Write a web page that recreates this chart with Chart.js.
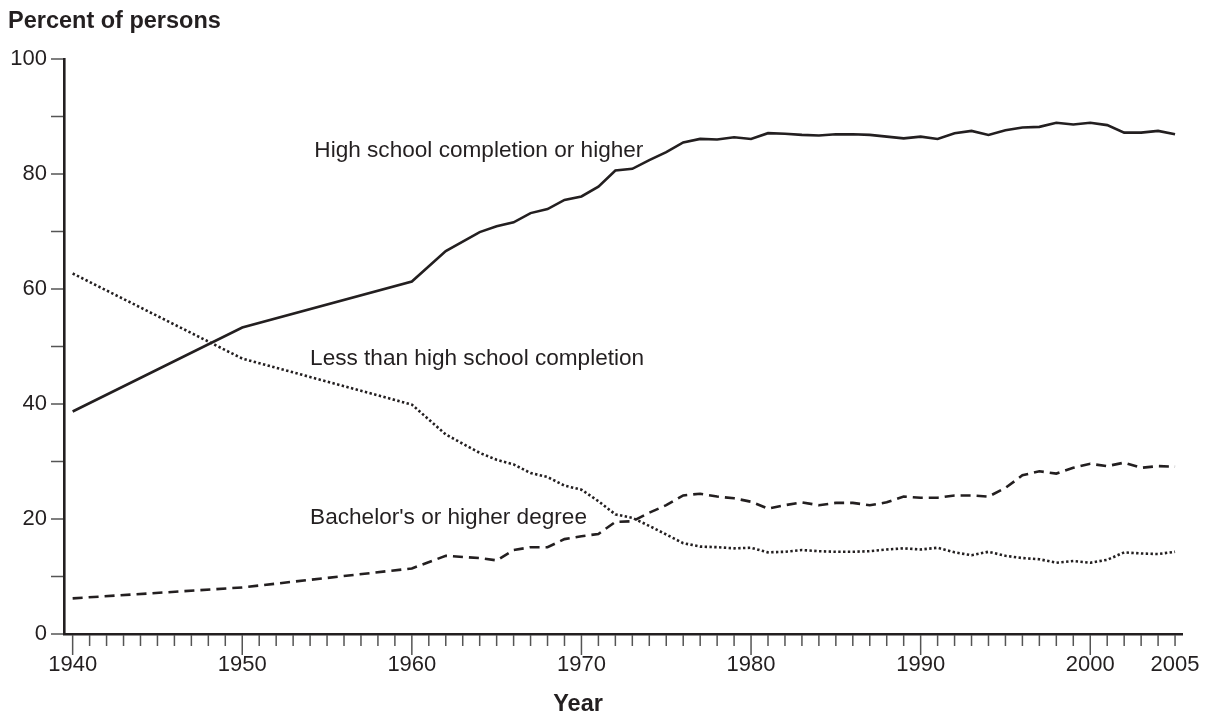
<!DOCTYPE html>
<html>
<head>
<meta charset="utf-8">
<script src="https://cdn.jsdelivr.net/npm/chart.js@4.4.0/dist/chart.umd.min.js"></script>
<style>
  html, body { margin: 0; background: #fff; }
  #wrap { width: 1209px; height: 715px; }
</style>
</head>
<body>
<div id="wrap"><canvas id="chart"></canvas></div>
<script>
// values
const years = [1940, 1950, 1960, 1962,
  1964, 1965, 1966, 1967, 1968, 1969,
  1970, 1971, 1972, 1973, 1974, 1975, 1976, 1977, 1978, 1979,
  1980, 1981, 1982, 1983, 1984, 1985, 1986, 1987, 1988, 1989,
  1990, 1991, 1992, 1993, 1994, 1995, 1996, 1997, 1998, 1999,
  2000, 2001, 2002, 2003, 2004, 2005];

const highSchool = [38.7, 53.3, 61.3, 66.6,
  69.9, 70.9, 71.6, 73.2, 73.9, 75.5,
  76.1, 77.8, 80.6, 80.9, 82.4, 83.8, 85.5, 86.1, 86.0, 86.4,
  86.1, 87.1, 87.0, 86.8, 86.7, 86.9, 86.9, 86.8, 86.5, 86.2,
  86.5, 86.1, 87.1, 87.5, 86.8, 87.6, 88.1, 88.2, 88.9, 88.6,
  88.9, 88.5, 87.2, 87.2, 87.5, 86.9];

const lessThanHS = [62.7, 47.9, 39.9, 34.7,
  31.5, 30.3, 29.5, 28.0, 27.3, 25.8,
  25.1, 23.1, 20.8, 20.2, 18.8, 17.3, 15.8, 15.2, 15.1, 14.9,
  15.0, 14.2, 14.3, 14.6, 14.4, 14.3, 14.3, 14.4, 14.7, 14.9,
  14.7, 15.0, 14.2, 13.7, 14.3, 13.6, 13.2, 13.0, 12.4, 12.7,
  12.4, 12.9, 14.2, 14.0, 13.9, 14.3];

const bachelors = [6.2, 8.1, 11.4, 13.6,
  13.2, 12.8, 14.6, 15.1, 15.1, 16.5,
  17.0, 17.4, 19.5, 19.6, 21.1, 22.4, 24.1, 24.4, 23.9, 23.6,
  23.0, 21.8, 22.4, 22.9, 22.4, 22.8, 22.8, 22.4, 22.9, 23.9,
  23.7, 23.7, 24.1, 24.1, 23.9, 25.4, 27.6, 28.3, 27.9, 28.9,
  29.6, 29.2, 29.8, 28.9, 29.2, 29.1];

const seriesNames = ['High school completion or higher', 'Less than high school completion', "Bachelor's or higher degree"];
const xTickLabels = [1940, 1950, 1960, 1970, 1980, 1990, 2000, 2005];
const yTickLabels = [0, 20, 40, 60, 80, 100];

const INK = '#231f20';
const FONT = "'Liberation Sans', Arial, Helvetica, sans-serif";

const toPoints = vals => years.map((yr, i) => ({ x: yr, y: vals[i] }));

// where each series name sits, in data units (year, percent at baseline)
const notes = [
  { text: seriesNames[0], x: 1954.25, y: 82.9 },
  { text: seriesNames[1], x: 1954.0, y: 46.8 },
  { text: seriesNames[2], x: 1954.0, y: 19.2 }
];

const decor = {
  id: 'decor',
  afterDraw(chart) {
    const ctx = chart.ctx;
    const xs = chart.scales.x, ys = chart.scales.y;
    const area = chart.chartArea;
    ctx.save();

    // tick marks: every year below the x axis, every 10 left of the y axis
    ctx.strokeStyle = '#555';
    ctx.lineWidth = 1.5;
    ctx.beginPath();
    for (let yr = 1940; yr <= 2005; yr++) {
      const px = xs.getPixelForValue(yr);
      const len = yr % 10 === 0 ? 21 : 12;
      ctx.moveTo(px, area.bottom + 1);
      ctx.lineTo(px, area.bottom + len);
    }
    for (let v = 0; v <= 100; v += 10) {
      const py = ys.getPixelForValue(v);
      ctx.moveTo(area.left - 1, py);
      ctx.lineTo(area.left - 13, py);
    }
    ctx.stroke();

    ctx.fillStyle = INK;
    ctx.textBaseline = 'alphabetic';
    ctx.textAlign = 'left';
    ctx.font = '22.6px ' + FONT;
    notes.forEach(n => {
      ctx.fillText(n.text, xs.getPixelForValue(n.x), ys.getPixelForValue(n.y));
    });

    ctx.font = 'bold 23.5px ' + FONT;
    ctx.fillText('Percent of persons', 8, 28);
    ctx.textAlign = 'center';
    ctx.fillText('Year', xs.getPixelForValue(1969.8), 711);
    ctx.restore();
  }
};

new Chart(document.getElementById('chart'), {
  type: 'line',
  data: {
    datasets: [
      { label: seriesNames[0], data: toPoints(highSchool), borderColor: INK, borderWidth: 2.6, pointRadius: 0, tension: 0 },
      { label: seriesNames[1], data: toPoints(lessThanHS), borderColor: INK, borderWidth: 2.6, borderDash: [2.4, 2.4], pointRadius: 0, tension: 0 },
      { label: seriesNames[2], data: toPoints(bachelors), borderColor: INK, borderWidth: 2.6, borderDash: [10, 6], pointRadius: 0, tension: 0 }
    ]
  },
  options: {
    responsive: true,
    maintainAspectRatio: false,
    animation: false,
    layout: { padding: { top: 59, left: 0, right: 27, bottom: 0 } },
    plugins: { legend: { display: false }, tooltip: { enabled: false } },
    scales: {
      x: {
        type: 'linear',
        min: 1939.49,
        max: 2005.41,
        afterBuildTicks: s => { s.ticks = xTickLabels.map(v => ({ value: v })); },
        afterFit: s => { s.height = 81; s.paddingLeft = 0; s.paddingRight = 0; },
        ticks: { color: INK, font: { family: FONT, size: 22 }, padding: 18, maxRotation: 0, autoSkip: false, callback: v => String(v) },
        grid: { display: false, drawTicks: false },
        border: { display: true, color: INK, width: 2.6 }
      },
      y: {
        min: 0,
        max: 100,
        afterBuildTicks: s => { s.ticks = yTickLabels.map(v => ({ value: v })); },
        afterFit: s => { s.width = 64; s.paddingTop = 0; s.paddingBottom = 0; },
        ticks: { color: INK, font: { family: FONT, size: 22 }, padding: 17 },
        grid: { display: false, drawTicks: false },
        border: { display: true, color: INK, width: 2.6 }
      }
    }
  },
  plugins: [decor]
});
</script>
</body>
</html>
